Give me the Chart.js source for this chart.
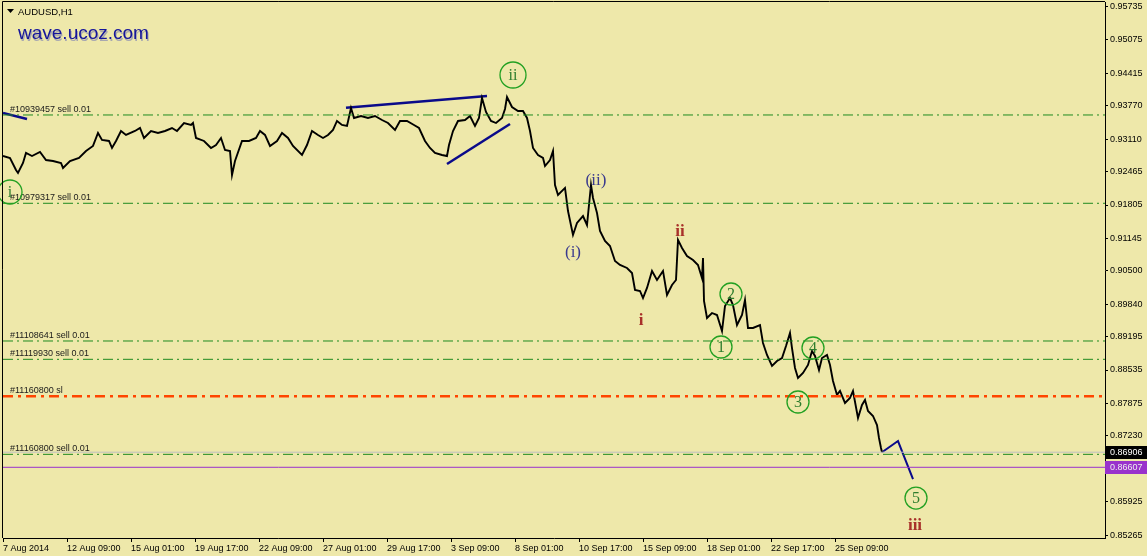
<!DOCTYPE html>
<html>
<head>
<meta charset="utf-8">
<script src="https://cdn.jsdelivr.net/npm/chart.js@4.4.1/dist/chart.umd.min.js"></script>
<style>
  html, body { margin: 0; padding: 0; background: #EEE8AA; }
  #wrap { width: 1147px; height: 556px; }
</style>
</head>
<body>
<div id="wrap"><canvas id="chart" width="1147" height="556"></canvas></div>
<script>
(function () {
  'use strict';

  // hourly bar number (0 = left edge) and close price
  const bars = [
    0, 7, 13, 15, 20, 23, 29, 37, 43, 50, 58, 60, 67, 76, 83, 90, 95, 99, 106, 109,
    113, 118, 123, 132, 137, 141, 148, 155, 162, 169, 174, 181, 188, 190, 193, 201, 208, 213, 218, 222,
    227, 229, 232, 239, 246, 253, 257, 262, 267, 274, 279, 285, 290, 299, 304, 309, 315, 320, 325, 330,
    334, 339, 344, 348, 351, 358, 365, 372, 379, 385, 392, 397, 404, 411, 416, 422, 427, 432, 439, 444,
    446, 450, 455, 462, 467, 472, 476, 479, 483, 488, 493, 499, 502, 504, 509, 515, 520, 524, 527, 530,
    535, 540, 542, 547, 550, 552, 555, 562, 565, 570, 574, 580, 584, 585, 588, 590, 594, 597, 602, 607,
    612, 617, 624, 629, 632, 637, 640, 644, 649, 654, 660, 664, 669, 673, 675, 679, 684, 690, 695, 699,
    700, 701, 704, 709, 714, 719, 722, 727, 730, 734, 739, 742, 745, 750, 757, 760, 764, 769, 774, 779,
    783, 787, 789, 792, 795, 800, 805, 809, 812, 816, 819, 824, 827, 830, 834, 837, 842, 847, 850, 855,
    859, 862, 865, 870, 874, 876, 878, 879
  ];
  const closes = [
    0.92776, 0.92737, 0.92499, 0.92440, 0.92638, 0.92836, 0.92776, 0.92856, 0.92697, 0.92677,
    0.92638, 0.92539, 0.92677, 0.92737, 0.92875, 0.92975, 0.93232, 0.93094, 0.93074, 0.92935,
    0.93074, 0.93272, 0.93193, 0.93272, 0.93331, 0.93133, 0.93272, 0.93232, 0.93272, 0.93331,
    0.93272, 0.93430, 0.93391, 0.93430, 0.93133, 0.93074, 0.92935, 0.92994, 0.93133, 0.92895,
    0.92875, 0.92400, 0.92677, 0.93074, 0.93074, 0.93133, 0.93272, 0.93193, 0.92975, 0.93074,
    0.93232, 0.93133, 0.92975, 0.92796, 0.92994, 0.93272, 0.93193, 0.93133, 0.93193, 0.93292,
    0.93470, 0.93391, 0.93371, 0.93727, 0.93530, 0.93569, 0.93530, 0.93569, 0.93490, 0.93430,
    0.93292, 0.93470, 0.93470, 0.93391, 0.93331, 0.93074, 0.92935, 0.92836, 0.92796, 0.92776,
    0.92994, 0.93272, 0.93470, 0.93490, 0.93569, 0.93371, 0.93530, 0.93925, 0.93648, 0.93470,
    0.93430, 0.93530, 0.93708, 0.93945, 0.93747, 0.93668, 0.93668, 0.93530, 0.93272, 0.92935,
    0.92796, 0.92737, 0.92578, 0.92697, 0.92875, 0.92202, 0.92004, 0.92143, 0.91686, 0.91211,
    0.91449, 0.91587, 0.91409, 0.91607, 0.92202, 0.91944, 0.91647, 0.91290, 0.91093, 0.90993,
    0.90696, 0.90617, 0.90557, 0.90458, 0.90121, 0.90101, 0.89962, 0.90161, 0.90498, 0.90319,
    0.90498, 0.90022, 0.90220, 0.90319, 0.91113, 0.90954, 0.90795, 0.90715, 0.90617, 0.90359,
    0.90755, 0.89903, 0.89566, 0.89665, 0.89625, 0.89308, 0.89804, 0.89962, 0.89823, 0.89427,
    0.89625, 0.89923, 0.89368, 0.89368, 0.89427, 0.89070, 0.88833, 0.88615, 0.88714, 0.88773,
    0.89011, 0.89269, 0.88971, 0.88575, 0.88377, 0.88476, 0.88635, 0.88912, 0.88813, 0.88536,
    0.88773, 0.88833, 0.88635, 0.88318, 0.88041, 0.88120, 0.87882, 0.87981, 0.88120, 0.87584,
    0.87842, 0.87941, 0.87723, 0.87624, 0.87445, 0.87188, 0.86990, 0.86906
  ];

  const xTickBars = [0, 64, 128, 192, 256, 320, 384, 448, 512, 576, 640, 704, 768, 832];
  const xTickLabels = [
    '7 Aug 2014', '12 Aug 09:00', '15 Aug 01:00', '19 Aug 17:00', '22 Aug 09:00',
    '27 Aug 01:00', '29 Aug 17:00', '3 Sep 09:00', '8 Sep 01:00', '10 Sep 17:00',
    '15 Sep 09:00', '18 Sep 01:00', '22 Sep 17:00', '25 Sep 09:00'
  ];
  const yTickValues = [
    0.95735, 0.95075, 0.94415, 0.93770, 0.93110, 0.92465, 0.91805, 0.91145,
    0.90500, 0.89840, 0.89195, 0.88535, 0.87875, 0.87230, 0.85925, 0.85265
  ];

  // open orders
  const orderPrices = [0.93589, 0.91839, 0.89110, 0.88747, 0.86864];
  const orderLabels = [
    '#10939457 sell 0.01', '#10979317 sell 0.01', '#11108641 sell 0.01',
    '#11119930 sell 0.01', '#11160800 sell 0.01'
  ];
  const stopPrice = 0.88014;
  const stopLabel = '#11160800 sl';
  const bidPrice = 0.86906;
  const alertPrice = 0.86607;

  // hand drawn trend lines
  const edgeBars = [0, 24];
  const edgePrices = [0.93628, 0.93509];
  const wedgeTopBars = [343, 484];
  const wedgeTopPrices = [0.93733, 0.93965];
  const wedgeLowBars = [444, 507];
  const wedgeLowPrices = [0.92618, 0.93410];
  const projBars = [879, 895, 910];
  const projPrices = [0.86906, 0.87128, 0.86375];

  // wave labels
  const circledText = ['i', 'ii', '1', '2', '3', '4', '5'];
  const circledBars = [7, 510, 718, 728, 795, 810, 913];
  const circledPrices = [0.92063, 0.94381, 0.88991, 0.90041, 0.87901, 0.88971, 0.85998];
  const circledRadius = [12, 13, 11, 11, 11, 11, 11];
  const minorText = ['(i)', '(ii)'];
  const minorBars = [570, 593];
  const minorPrices = [0.90854, 0.92281];
  const interText = ['i', 'ii', 'iii'];
  const interBars = [638, 677, 912];
  const interPrices = [0.89506, 0.91270, 0.85443];

  const pts = (xs, ys) => xs.map((b, i) => ({ x: b, y: ys[i] }));
  const flat = (p) => [{ x: 0, y: p }, { x: 1102, y: p }];
  const tickFont = { family: 'Liberation Sans', size: 9 };

  const orderSets = orderPrices.map((p) => ({
    data: flat(p), borderColor: '#1f8a1f', borderWidth: 1, borderDash: [10, 4, 2, 4],
  }));

  const overlay = {
    id: 'overlay',
    beforeDraw(chart) {
      const ctx = chart.ctx;
      ctx.save();
      ctx.fillStyle = '#EEE8AA';
      ctx.fillRect(0, 0, chart.width, chart.height);
      ctx.restore();
    },
    afterDatasetsDraw(chart) {
      const { ctx, scales: { x, y } } = chart;
      ctx.save();

      ctx.font = '9px "Liberation Sans"';
      ctx.fillStyle = '#1a1a1a';
      ctx.textAlign = 'left';
      ctx.textBaseline = 'alphabetic';
      orderPrices.forEach((p, i) => ctx.fillText(orderLabels[i], 10, y.getPixelForValue(p) - 3));
      ctx.fillText(stopLabel, 10, y.getPixelForValue(stopPrice) - 3);

      ctx.textAlign = 'center';
      ctx.textBaseline = 'middle';
      circledText.forEach((t, i) => {
        const px = x.getPixelForValue(circledBars[i]);
        const py = y.getPixelForValue(circledPrices[i]);
        ctx.beginPath();
        ctx.arc(px, py, circledRadius[i], 0, Math.PI * 2);
        ctx.strokeStyle = '#22a022';
        ctx.lineWidth = 1.3;
        ctx.stroke();
        ctx.fillStyle = '#2e7d2e';
        ctx.font = '16px "Liberation Serif"';
        ctx.fillText(t, px, py + 1);
      });

      ctx.font = '17px "Liberation Serif"';
      ctx.fillStyle = '#3a3a8e';
      minorText.forEach((t, i) => {
        ctx.fillText(t, x.getPixelForValue(minorBars[i]), y.getPixelForValue(minorPrices[i]));
      });

      ctx.font = 'bold 17px "Liberation Serif"';
      ctx.fillStyle = '#a8302a';
      interText.forEach((t, i) => {
        ctx.fillText(t, x.getPixelForValue(interBars[i]), y.getPixelForValue(interPrices[i]));
      });
      ctx.restore();
    },
    afterDraw(chart) {
      const { ctx, chartArea: a, scales: { y } } = chart;
      ctx.save();
      ctx.strokeStyle = '#000';
      ctx.lineWidth = 1;
      ctx.beginPath();
      ctx.moveTo(a.left - 0.5, a.bottom);
      ctx.lineTo(a.left - 0.5, a.top - 0.5);
      ctx.lineTo(a.right, a.top - 0.5);
      ctx.stroke();

      // price boxes on the axis
      ctx.font = '9px "Liberation Sans"';
      ctx.textAlign = 'left';
      ctx.textBaseline = 'middle';
      [[bidPrice, '#000000', '#ffffff'], [alertPrice, '#9932CC', '#eeeeee']].forEach(([p, bg, fg]) => {
        const py = Math.round(y.getPixelForValue(p));
        ctx.fillStyle = bg;
        ctx.fillRect(a.right, py - 6, chart.width - a.right, 13);
        ctx.fillStyle = fg;
        ctx.fillText(p.toFixed(5), a.right + 5, py + 1);
      });

      // symbol caption
      ctx.fillStyle = '#000';
      ctx.beginPath();
      ctx.moveTo(7, 9); ctx.lineTo(14, 9); ctx.lineTo(10.5, 13);
      ctx.closePath();
      ctx.fill();
      ctx.font = '9.5px "Liberation Sans"';
      ctx.textBaseline = 'alphabetic';
      ctx.fillText('AUDUSD,H1', 18, 15);

      ctx.font = '19px "Liberation Sans"';
      ctx.fillStyle = '#a8a8b0';
      ctx.fillText('wave.ucoz.com', 19, 41);
      ctx.fillStyle = '#15159a';
      ctx.fillText('wave.ucoz.com', 18, 39);
      ctx.restore();
    },
  };

  new Chart(document.getElementById('chart'), {
    type: 'scatter',
    data: {
      datasets: [
        ...orderSets,
        { data: flat(stopPrice), borderColor: '#FF4500', borderWidth: 2.5, borderDash: [10, 5, 3, 5] },
        { data: flat(bidPrice), borderColor: '#C0C0C0', borderWidth: 1 },
        { data: flat(alertPrice), borderColor: '#9932CC', borderWidth: 1 },
        { data: pts(bars, closes), borderColor: '#000000', borderWidth: 1.9 },
        { data: pts(edgeBars, edgePrices), borderColor: '#0a0a8a', borderWidth: 2.5 },
        { data: pts(wedgeTopBars, wedgeTopPrices), borderColor: '#0a0a8a', borderWidth: 2.5 },
        { data: pts(wedgeLowBars, wedgeLowPrices), borderColor: '#0a0a8a', borderWidth: 2.5 },
        { data: pts(projBars, projPrices), borderColor: '#0a0a8a', borderWidth: 2 },
      ].map((d) => ({ showLine: true, pointRadius: 0, pointHoverRadius: 0, tension: 0, ...d })),
    },
    options: {
      responsive: false,
      animation: false,
      events: [],
      layout: { padding: { left: 3, top: 2, right: 0, bottom: 0 } },
      plugins: { legend: { display: false }, tooltip: { enabled: false } },
      scales: {
        x: {
          type: 'linear',
          min: 0,
          max: 1102,
          afterBuildTicks: (s) => { s.ticks = xTickBars.map((v) => ({ value: v })); },
          afterFit: (s) => { s.height = 18; s.paddingLeft = 0; s.paddingRight = 0; },
          grid: { drawOnChartArea: false, tickLength: 4, color: '#000' },
          border: { color: '#000' },
          ticks: {
            align: 'start', padding: 1, color: '#000', font: tickFont,
            autoSkip: false, maxRotation: 0,
            callback: (v, i) => xTickLabels[i],
          },
        },
        y: {
          position: 'right',
          min: 0.85206,
          max: 0.95828,
          afterBuildTicks: (s) => { s.ticks = yTickValues.map((v) => ({ value: v })); },
          afterFit: (s) => { s.width = 42; s.paddingTop = 0; s.paddingBottom = 0; },
          grid: { drawOnChartArea: false, tickLength: 3, color: '#000' },
          border: { color: '#000' },
          ticks: {
            padding: 2, color: '#000', font: tickFont, autoSkip: false,
            callback: (v) => Number(v).toFixed(5),
          },
        },
      },
    },
    plugins: [overlay],
  });
})();
</script>
</body>
</html>
